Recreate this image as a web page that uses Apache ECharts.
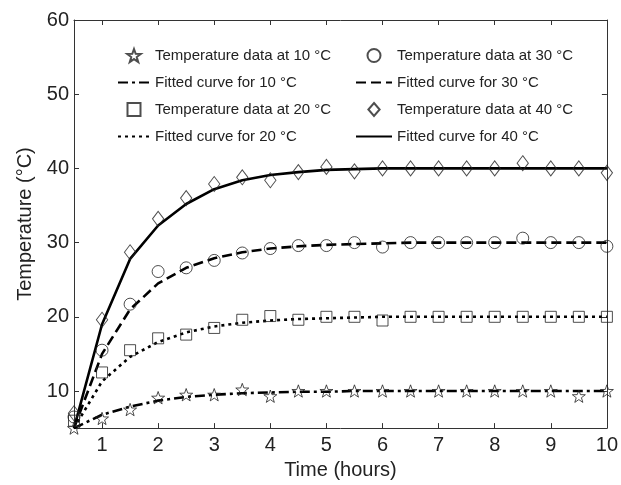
<!DOCTYPE html>
<html>
<head>
<meta charset="utf-8">
<script src="https://cdn.jsdelivr.net/npm/echarts@6/dist/echarts.min.js"></script>
<style>
html, body { margin: 0; padding: 0; background: #fff; }
#chart { width: 621px; height: 485px; }
</style>
</head>
<body>
<div id="chart"></div>
<script>
// time in hours
var hours = [0.5, 1, 1.5, 2, 2.5, 3, 3.5, 4, 4.5, 5, 5.5, 6, 6.5, 7, 7.5, 8, 8.5, 9, 9.5, 10];

// measured temperatures
var data10 = [5.0, 6.3, 7.5, 9.1, 9.5, 9.5, 10.2, 9.3, 10, 10, 10, 10, 10, 10, 10, 10, 10, 10, 9.3, 10];
var data20 = [6.0, 12.5, 15.5, 17.1, 17.6, 18.5, 19.6, 20.1, 19.6, 20, 20, 19.5, 20, 20, 20, 20, 20, 20, 20, 20];
var data30 = [6.5, 15.5, 21.7, 26.1, 26.6, 27.6, 28.6, 29.2, 29.6, 29.6, 30, 29.4, 30, 30, 30, 30, 30.6, 30, 30, 29.5];
var data40 = [7.0, 19.6, 28.7, 33.2, 36.0, 37.9, 38.8, 38.4, 39.5, 40.2, 39.6, 40, 40, 40, 40, 40, 40.7, 40, 40, 39.4];

// fitted curves
var fit10 = [5, 6.8, 7.9, 8.7, 9.2, 9.5, 9.7, 9.8, 9.9, 9.9, 10, 10, 10, 10, 10, 10, 10, 10, 10, 10];
var fit20 = [5, 11.3, 14.6, 16.6, 17.9, 18.7, 19.2, 19.5, 19.7, 19.8, 19.9, 20, 20, 20, 20, 20, 20, 20, 20, 20];
var fit30 = [5, 15.0, 21.0, 24.5, 26.6, 27.9, 28.7, 29.2, 29.5, 29.7, 29.8, 29.9, 30, 30, 30, 30, 30, 30, 30, 30];
var fit40 = [5, 19.0, 27.8, 32.3, 35.2, 37.2, 38.4, 39.1, 39.5, 39.8, 39.9, 40, 40, 40, 40, 40, 40, 40, 40, 40];

var xTicks = [1, 2, 3, 4, 5, 6, 7, 8, 9, 10];
var yTicks = [10, 20, 30, 40, 50, 60];

var font = "'Liberation Sans', Arial, sans-serif";
var star = 'path://M10,0L12.35,6.76L19.51,6.91L13.8,11.24L15.88,18.09L10,14L4.12,18.09L6.2,11.24L0.49,6.91L7.65,6.76Z';
var square = 'path://M0,0L10,0L10,10L0,10Z';
var diamond = 'path://M6.5,0L13,7.5L6.5,15L0,7.5Z';

function pairs(ys) {
    var out = [];
    for (var i = 0; i < hours.length; i++) {
        out.push([hours[i], ys[i]]);
    }
    return out;
}

function dots(name, ys, symbol, size) {
    return {
        name: name,
        type: 'scatter',
        data: pairs(ys),
        symbol: symbol,
        symbolSize: size,
        symbolKeepAspect: true,
        clip: false,
        itemStyle: { color: 'rgba(0,0,0,0)', borderColor: '#222', borderWidth: 1 },
        z: 3
    };
}

function curve(name, ys, dash) {
    return {
        name: name,
        type: 'line',
        data: pairs(ys),
        symbol: 'none',
        lineStyle: { color: '#000', width: 2.6, type: dash },
        // keeps the legend from drawing a dot on the line icon
        itemStyle: { color: 'rgba(0,0,0,0)', borderWidth: 0 },
        z: 2
    };
}

var myChart = echarts.init(document.getElementById('chart'));

var legendText = { fontFamily: font, fontSize: 15, color: '#222', padding: [3, 0, 0, 0] };

var option = {
    backgroundColor: '#fff',
    animation: false,
    grid: { left: 74, right: 14, top: 20, bottom: 53 },
    legend: [{
        orient: 'vertical',
        left: 117,
        top: 48,
        padding: 0,
        itemWidth: 32,
        itemHeight: 13,
        itemGap: 12,
        textStyle: legendText,
        data: ['Temperature data at 10 °C', 'Fitted curve for 10 °C', 'Temperature data at 20 °C', 'Fitted curve for 20 °C']
    }, {
        orient: 'vertical',
        left: 355,
        top: 48,
        padding: 0,
        itemWidth: 36,
        itemHeight: 13,
        itemGap: 12,
        textStyle: legendText,
        data: ['Temperature data at 30 °C', 'Fitted curve for 30 °C', 'Temperature data at 40 °C', 'Fitted curve for 40 °C']
    }],
    xAxis: [{
        type: 'value',
        min: 0.5,
        max: 10,
        name: 'Time (hours)',
        nameLocation: 'middle',
        nameGap: 25,
        nameTextStyle: { fontFamily: font, fontSize: 20, color: '#222' },
        axisLine: { lineStyle: { color: '#333', width: 1 } },
        axisTick: { inside: true, length: 5, customValues: xTicks, lineStyle: { color: '#333' } },
        axisLabel: { customValues: xTicks, fontFamily: font, fontSize: 20, color: '#222', margin: 7 },
        splitLine: { show: false }
    }, {
        type: 'value',
        position: 'top',
        min: 0.5,
        max: 10,
        axisLine: { lineStyle: { color: '#333', width: 1 } },
        axisTick: { inside: true, length: 5, customValues: xTicks, lineStyle: { color: '#333' } },
        axisLabel: { show: false },
        splitLine: { show: false }
    }],
    yAxis: [{
        type: 'value',
        min: 5,
        max: 60,
        name: 'Temperature (°C)',
        nameLocation: 'middle',
        nameGap: 30,
        nameTextStyle: { fontFamily: font, fontSize: 20, color: '#222' },
        axisLine: { show: true, lineStyle: { color: '#333', width: 1 } },
        axisTick: { show: true, inside: true, length: 5, customValues: yTicks, lineStyle: { color: '#333' } },
        axisLabel: { customValues: yTicks, fontFamily: font, fontSize: 20, color: '#222', margin: 5 },
        splitLine: { show: false }
    }, {
        type: 'value',
        position: 'right',
        min: 5,
        max: 60,
        axisLine: { show: true, lineStyle: { color: '#333', width: 1 } },
        axisTick: { show: true, inside: true, length: 5, customValues: yTicks, lineStyle: { color: '#333' } },
        axisLabel: { show: false },
        splitLine: { show: false }
    }],
    series: [
        curve('Fitted curve for 10 °C', fit10, [10, 4, 3, 4]),
        curve('Fitted curve for 20 °C', fit20, [3, 4]),
        curve('Fitted curve for 30 °C', fit30, [10, 5]),
        curve('Fitted curve for 40 °C', fit40, 'solid'),
        dots('Temperature data at 10 °C', data10, star, 13),
        dots('Temperature data at 20 °C', data20, square, 11),
        dots('Temperature data at 30 °C', data30, 'circle', 12),
        dots('Temperature data at 40 °C', data40, diamond, [13, 15])
    ]
};

myChart.setOption(option);
</script>
</body>
</html>
